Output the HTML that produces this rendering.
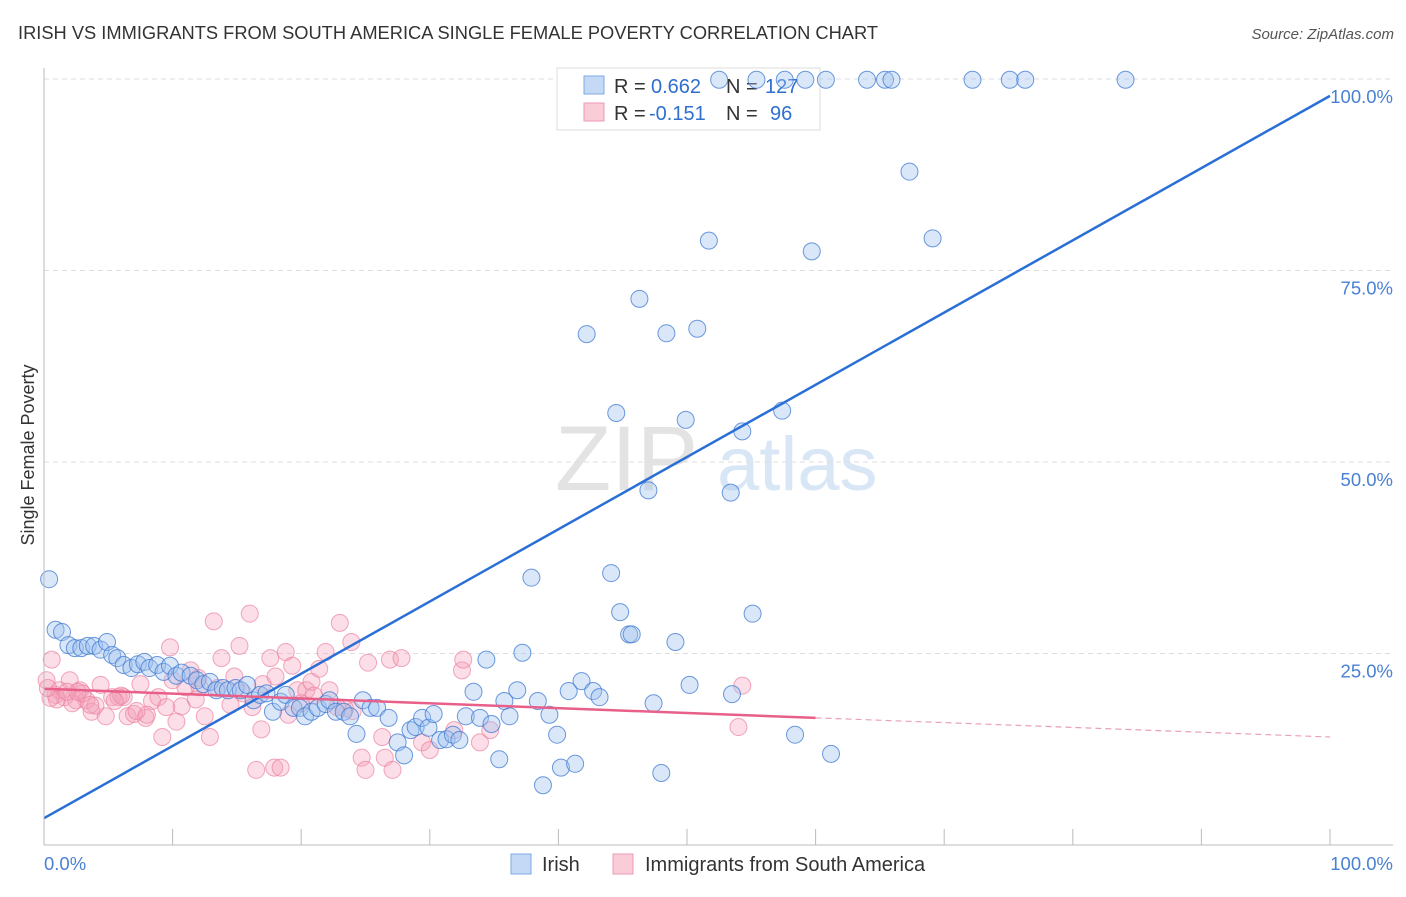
<!DOCTYPE html>
<html><head><meta charset="utf-8"><style>
body{margin:0;background:#fff;font-family:"Liberation Sans",sans-serif;}
svg text{font-family:"Liberation Sans",sans-serif;}
</style></head><body>
<svg id="chart" width="1406" height="892">
<text x="18" y="39" font-size="18.3" fill="#333">IRISH VS IMMIGRANTS FROM SOUTH AMERICA SINGLE FEMALE POVERTY CORRELATION CHART</text>
<text x="1394" y="39" font-size="15" fill="#555" font-style="italic" text-anchor="end">Source: ZipAtlas.com</text>
<text x="34" y="455" font-size="18" fill="#333" text-anchor="middle" transform="rotate(-90 34 455)">Single Female Poverty</text>
<g><text x="555" y="490" font-size="92" fill="#ddd" font-family="Liberation Serif" opacity="0.8">ZIP</text><text x="717" y="490" font-size="76" fill="#cfe0f4" opacity="0.8">atlas</text></g>
<g id="grid"></g>
<g>
<rect x="557" y="68" width="263" height="62" fill="#fff" stroke="#ddd"/>
<rect x="584" y="76" width="20" height="18" fill="#c4d9f5" stroke="#7fa9e3"/>
<rect x="584" y="103" width="20" height="18" fill="#f9ccd8" stroke="#ee9ab2"/>
<g font-size="20" fill="#333">
<text x="614" y="93">R =</text><text x="651" y="93" fill="#2f6fd0">0.662</text><text x="726" y="93">N =</text><text x="765" y="93" fill="#2f6fd0">127</text>
<text x="614" y="120">R =</text><text x="649" y="120" fill="#2f6fd0">-0.151</text><text x="726" y="120">N =</text><text x="770" y="120" fill="#2f6fd0">96</text>
</g>
</g>
<g id="pts"></g><g id="lines"></g><g id="axes"></g>
<g>
<rect x="511" y="854" width="20" height="20" fill="#c4d9f5" stroke="#7fa9e3"/>
<text x="542" y="871" font-size="20" fill="#333">Irish</text>
<rect x="613" y="854" width="20" height="20" fill="#f9ccd8" stroke="#ee9ab2"/>
<text x="645" y="871" font-size="20" fill="#333">Immigrants from South America</text>
</g>
</svg>
<script>
const blueX=[0.4,0.9,1.4,1.9,2.4,2.9,3.4,3.9,4.4,4.9,5.3,5.7,6.2,6.8,7.3,7.8,8.2,8.8,9.3,9.8,10.3,10.7,11.4,11.9,12.4,12.9,13.4,13.9,14.3,14.9,15.3,15.8,16.3,16.8,17.3,17.8,18.4,18.8,19.4,19.9,20.3,20.8,21.3,21.9,22.2,22.7,23.3,23.8,24.3,24.8,25.4,25.9,26.8,27.5,28.0,28.5,28.9,29.4,29.9,30.3,30.8,31.3,31.8,32.3,32.8,33.4,33.9,34.4,34.8,35.4,35.8,36.2,36.8,37.2,37.9,38.4,38.8,39.3,39.9,40.2,40.8,41.3,41.8,42.2,42.7,43.2,44.1,44.5,44.8,45.5,45.7,46.3,47.0,47.4,48.0,48.4,49.1,49.9,50.2,50.8,52.5,51.7,53.4,53.5,54.3,55.1,55.4,57.4,58.4,59.2,59.7,60.8,61.2,64.0,65.4,65.9,67.3,69.1,72.2,75.1,76.3,84.1,57.6];
const blueY=[34.7,28.1,27.8,26.1,25.7,25.7,26.0,26.0,25.5,26.5,24.8,24.4,23.5,23.1,23.6,23.9,23.1,23.5,22.6,23.4,22.1,22.5,22.1,21.5,21.0,21.3,20.2,20.5,20.2,20.5,20.2,20.9,18.9,19.6,19.8,17.4,18.7,19.6,17.9,17.9,16.8,17.4,17.9,18.4,18.9,17.4,17.4,16.8,14.5,18.9,17.9,17.9,16.6,13.4,11.7,15.0,15.4,16.6,15.3,17.1,13.7,13.8,14.4,13.7,16.8,20.0,16.6,24.2,15.8,11.2,18.8,16.8,20.2,25.1,34.9,18.8,7.8,17.0,14.4,10.1,20.1,10.6,21.4,66.7,20.1,19.3,35.5,56.4,30.4,27.5,27.5,71.3,46.3,18.5,9.4,66.8,26.5,55.5,20.9,67.4,99.9,78.9,46.0,19.7,54.0,30.2,99.9,56.7,14.4,99.9,77.5,99.9,11.9,99.9,99.9,99.9,87.9,79.2,99.9,99.9,99.9,99.9,99.9];
const pinkX=[0.2,0.6,0.9,1.2,1.6,2.0,2.5,2.8,3.3,3.7,4.4,4.8,5.3,5.8,6.2,6.5,7.0,7.5,7.9,8.4,8.9,9.2,9.8,10.3,10.7,11.0,11.4,12.1,12.5,12.9,13.2,13.8,14.5,15.2,16.0,16.9,16.5,17.6,17.9,18.4,18.8,19.3,19.7,20.4,20.8,21.4,21.9,22.2,23.0,23.4,23.9,24.7,25.0,25.2,26.3,26.5,26.9,27.1,27.8,29.4,30.0,31.9,32.5,32.6,33.9,34.7,54.0,54.3,1.0,2.2,3.0,4.0,6.0,8.0,10.0,11.8,13.5,14.8,16.2,17.0,19.0,21.0,22.8,24.0,0.5,1.8,3.6,5.5,7.2,9.5,12.0,15.5,18.0,20.0,0.3,2.6];
const pinkY=[21.5,24.2,19.6,20.2,19.3,21.5,18.9,20.2,18.9,17.4,20.9,16.8,19.3,19.3,19.3,16.8,17.1,21.0,16.6,18.8,19.3,14.1,25.8,16.1,18.1,20.6,22.8,20.6,16.8,14.1,29.2,24.4,18.3,26.0,30.2,15.1,9.8,24.4,10.1,10.1,25.2,23.4,20.2,20.2,21.3,23.0,25.2,20.2,29.0,17.8,26.5,11.4,9.8,23.8,14.1,11.4,24.2,9.8,24.4,13.4,12.4,15.0,22.8,24.2,13.4,15.0,15.4,20.8,19.0,18.5,19.8,18.2,19.5,17.0,21.5,19.0,20.5,22.0,18.0,21.0,17.0,19.5,18.0,17.5,19.2,20.0,18.3,18.8,17.5,18.0,21.8,19.8,22.0,18.5,20.5,20.0];
const xTicks=[0,10,20,30,40,50,60,70,80,90,100];
const yTicks=[25,50,75,100];
const yTickLabels=["25.0%","50.0%","75.0%","100.0%"];
const blueTrend=[3.5,97.8];
const pinkTrend=[20.4,16.6,14.1];
const NS="http://www.w3.org/2000/svg";
const X=v=>44+v*12.86, Y=v=>845-v*7.66;
function mk(tag,attrs,parent){const e=document.createElementNS(NS,tag);for(const k in attrs)e.setAttribute(k,attrs[k]);document.getElementById(parent).appendChild(e);return e;}
yTicks.forEach((t,i)=>{
 const g=mk('line',{x1:44,x2:1393,y1:Y(t),y2:Y(t),stroke:'#ddd','stroke-dasharray':'5,4'},'grid');
 
 
 const l=mk('text',{x:1393,y:Y(t)+24,'font-size':18.5,fill:'#4a80d4','text-anchor':'end'},'axes');
 l.textContent=yTickLabels[i];
 
 
});
const ax=mk('line',{x1:44,x2:1393,y1:845,y2:845,stroke:'#bbb'},'axes');


const ay=mk('line',{x1:44,x2:44,y1:68,y2:845,stroke:'#bbb'},'axes');


xTicks.forEach(t=>{const tk=mk('line',{x1:X(t),x2:X(t),y1:845,y2:829,stroke:'#bbb'},'axes');
 
 });
const x0=mk('text',{x:44,y:870,'font-size':18.5,fill:'#4a80d4'},'axes');x0.textContent='0.0%';


const x1=mk('text',{x:1393,y:870,'font-size':18.5,fill:'#4a80d4','text-anchor':'end'},'axes');x1.textContent='100.0%';


pinkX.forEach((v,i)=>{const c=mk('circle',{cx:X(v),cy:Y(pinkY[i]),r:8.5,fill:'rgba(244,160,185,0.35)',stroke:'rgba(236,130,160,0.7)','stroke-width':1},'pts');
 
 });
blueX.forEach((v,i)=>{const c=mk('circle',{cx:X(v),cy:Y(blueY[i]),r:8.5,fill:'rgba(160,195,240,0.4)',stroke:'rgba(60,120,210,0.75)','stroke-width':1},'pts');
 
 });
const bl=mk('line',{x1:X(0),y1:Y(blueTrend[0]),x2:X(100),y2:Y(blueTrend[1]),stroke:'#2a6fd6','stroke-width':2.5},'lines');


const pl=mk('line',{x1:X(0),y1:Y(pinkTrend[0]),x2:X(60),y2:Y(pinkTrend[1]),stroke:'#e8608a','stroke-width':2.5},'lines');


const pd=mk('line',{x1:X(60),y1:Y(pinkTrend[1]),x2:X(100),y2:Y(pinkTrend[2]),stroke:'#e8a0b5','stroke-width':1.2,'stroke-dasharray':'6,4'},'lines');


</script>
</body></html>
